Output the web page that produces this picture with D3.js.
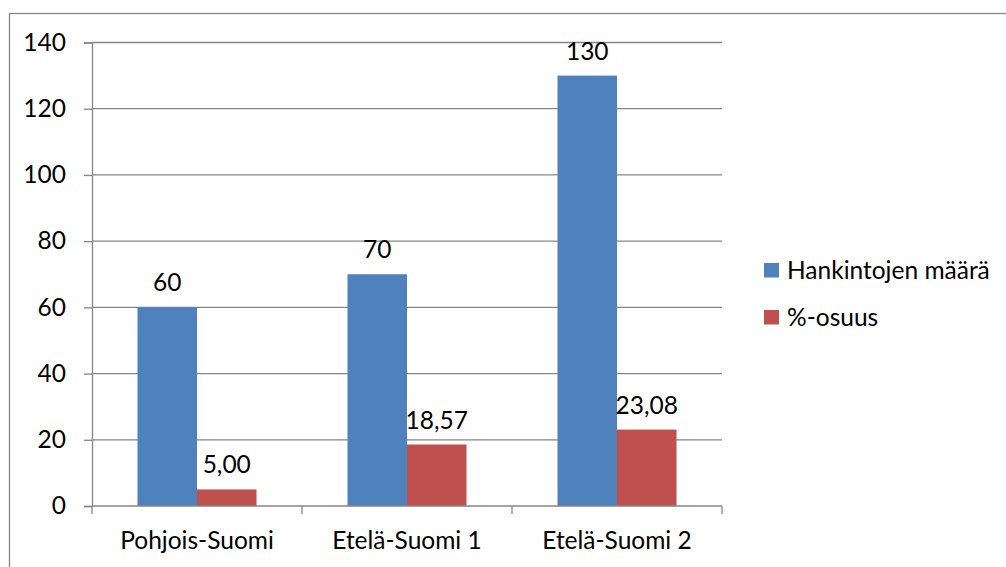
<!DOCTYPE html>
<html><head><meta charset="utf-8">
<script src="https://cdn.jsdelivr.net/npm/d3@7"></script>
<style>body{margin:0;background:#fff}svg{display:block}</style>
</head><body>
<svg id="c" width="1006" height="567"></svg>
<script>
const categories = ["Pohjois-Suomi", "Etelä-Suomi 1", "Etelä-Suomi 2"];
const seriesNames = ["Hankintojen määrä", "%-osuus"];
const hankinnat = [60, 70, 130];
const osuus = [5.00, 18.57, 23.08];
const yTicks = [0, 20, 40, 60, 80, 100, 120, 140];
const colors = ["#4F81BD", "#C0504D"];

(function () {
const svg = d3.select("#c");
const font = "Lato, 'Open Sans', sans-serif";
const fs = 24.5;
const pLeft = 92, pRight = 722, pTop = 42.5, pBottom = 506;

// outer chart border
svg.append("rect").attr("x", 9.5).attr("y", 13.5).attr("width", 1010).attr("height", 600)
  .attr("fill", "none").attr("stroke", "#868686").attr("stroke-width", 1.3);

const x0 = d3.scaleBand().domain(categories).range([pLeft, pRight]);
const y = d3.scaleLinear().domain([0, 140]).range([pBottom, pTop]);
const barW = 59.5;
const x1 = d3.scaleBand().domain(seriesNames).range([0, barW * 2]);

// gridlines
svg.append("g").selectAll("line").data(yTicks.filter(d => d > 0)).join("line")
  .attr("x1", pLeft).attr("x2", pRight).attr("y1", d => y(d)).attr("y2", d => y(d))
  .attr("stroke", "#868686").attr("stroke-width", 1.3);

// y axis
const yAxis = svg.append("g").attr("transform", `translate(${pLeft},0)`)
  .call(d3.axisLeft(y).tickValues(yTicks).tickSize(8).tickPadding(18).tickFormat(d3.format("d")));
yAxis.select(".domain").attr("stroke", "#868686").attr("stroke-width", 1.3);
yAxis.selectAll(".tick line").attr("stroke", "#868686").attr("stroke-width", 1.3);
yAxis.selectAll("text").attr("font-family", font).attr("font-size", fs).attr("fill", "#000");

// bars
const data = categories.map((c, i) => ({c, vals: [hankinnat[i], osuus[i]]}));
const labelFmt = [d3.format("d"), v => d3.format(".2f")(v).replace(".", ",")];
const off = (x0.bandwidth() - barW * 2) / 2;
const g = svg.append("g");
data.forEach(d => {
  d.vals.forEach((v, j) => {
    const bx = x0(d.c) + off + x1(seriesNames[j]);
    g.append("rect").attr("x", bx).attr("y", y(v)).attr("width", x1.bandwidth())
      .attr("height", y(0) - y(v)).attr("fill", colors[j]);
    g.append("text").attr("x", bx + x1.bandwidth() / 2).attr("y", y(v) - 16)
      .attr("text-anchor", "middle").attr("font-family", font).attr("font-size", fs)
      .attr("fill", "#000").text(labelFmt[j](v));
  });
});

// x axis
const xAxis = svg.append("g").attr("transform", `translate(0,${pBottom})`)
  .call(d3.axisBottom(x0).tickSize(0).tickPadding(26));
xAxis.select(".domain").remove();
xAxis.selectAll("text").attr("font-family", font).attr("font-size", fs).attr("fill", "#000");
svg.append("line").attr("x1", pLeft).attr("x2", pRight).attr("y1", pBottom).attr("y2", pBottom)
  .attr("stroke", "#868686").attr("stroke-width", 1.3);
const bounds = categories.map(c => x0(c)).concat([pRight]);
svg.append("g").selectAll("line").data(bounds).join("line")
  .attr("x1", d => d).attr("x2", d => d).attr("y1", pBottom).attr("y2", pBottom + 8)
  .attr("stroke", "#868686").attr("stroke-width", 1.3);

// legend
const leg = svg.append("g");
seriesNames.forEach((n, i) => {
  const ly = 263 + i * 47;
  leg.append("rect").attr("x", 764).attr("y", ly).attr("width", 15).attr("height", 14.5).attr("fill", colors[i]);
  leg.append("text").attr("x", 787).attr("y", ly + 7.5).attr("dy", "0.35em")
    .attr("font-family", font).attr("font-size", fs).attr("fill", "#000").text(n);
});
})();
</script>
</body></html>
